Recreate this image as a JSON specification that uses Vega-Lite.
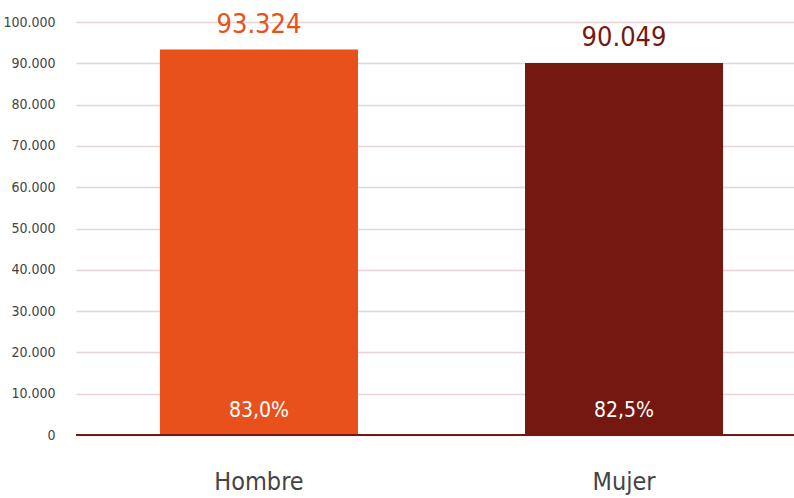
{
  "$schema": "https://vega.github.io/schema/vega-lite/v6.json",
  "autosize": "none",
  "padding": {"left": 76, "top": 22, "right": 0, "bottom": 63},
  "width": 731,
  "height": 413,
  "background": "white",
  "config": {
    "locale": {"number": {"decimal": ",", "thousands": ".", "grouping": [3], "currency": ["", " €"]}},
    "view": {"stroke": null},
    "font": "DejaVu Sans Condensed, Roboto, sans-serif"
  },
  "data": {"values": [
    {"sexo": "Hombre", "valor": 93324, "etiqueta": "93.324", "pct": "83,0%"},
    {"sexo": "Mujer", "valor": 90049, "etiqueta": "90.049", "pct": "82,5%"}
  ]},
  "encoding": {
    "x": {"field": "sexo", "type": "nominal", "sort": null,
      "scale": {"paddingInner": 0.4575, "paddingOuter": 0.23},
      "axis": {"title": null, "labelAngle": 0, "domain": false, "ticks": false, "labelFontSize": 25, "labelColor": "#444444", "labelPadding": 34, "labelFont": "DejaVu Sans Condensed, Roboto, sans-serif"}},
    "y": {"field": "valor", "type": "quantitative",
      "scale": {"domain": [0, 100000]},
      "axis": {"title": null, "tickCount": 10, "format": ",d", "domain": false, "ticks": false, "labelFontSize": 14, "labelColor": "#444444", "labelPadding": 21, "gridColor": "#e6d4d4", "gridWidth": 1.5, "labelFont": "DejaVu Sans Condensed, Roboto, sans-serif"}},
    "color": {"field": "sexo", "type": "nominal", "scale": {"domain": ["Hombre", "Mujer"], "range": ["#e8501c", "#761812"]}, "legend": null}
  },
  "layer": [
    {"mark": {"type": "bar"}},
    {"mark": {"type": "text", "baseline": "alphabetic", "dy": -17, "fontSize": 27, "font": "DejaVu Sans Condensed, Roboto, sans-serif"},
      "encoding": {"text": {"field": "etiqueta"}}},
    {"mark": {"type": "text", "baseline": "middle", "dy": -24, "fontSize": 21, "font": "DejaVu Sans Condensed, Roboto, sans-serif"},
      "encoding": {"y": {"datum": 0}, "text": {"field": "pct"}, "color": {"value": "white"}}},
    {"mark": {"type": "rule", "strokeWidth": 2},
      "encoding": {"y": {"datum": 0}, "x": null, "color": {"value": "#761812"}}}
  ]
}
